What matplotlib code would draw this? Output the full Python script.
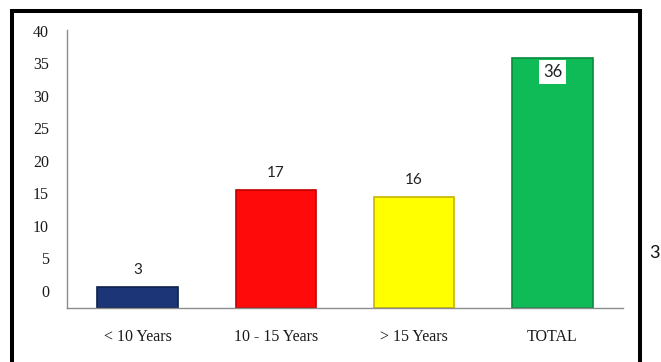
import matplotlib
matplotlib.use("Agg")
import matplotlib.pyplot as plt
from matplotlib.patches import Rectangle

# data
categories = ["< 10 Years", "10 - 15 Years", "> 15 Years", "TOTAL"]
values = [3, 17, 16, 36]
bar_colors = ["#1c3577", "#ff0a0a", "#ffff00", "#0fbb57"]
edge_colors = ["#0f2050", "#c00000", "#c8b400", "#0a8a3e"]
tick_values = [0, 5, 10, 15, 20, 25, 30, 35, 40]

# the printed scale sits a little off the bars (label 0 is above the baseline)
label_shift = 2.45
label_scale = 0.9366

fig = plt.figure(figsize=(6.61, 3.62), dpi=100)
fig.patch.set_facecolor("white")

# thick frame round the chart (open at the bottom of the crop)
frame = Rectangle((12 / 661, -0.05), (640 - 12) / 661, 1.05 - 11 / 362,
                  transform=fig.transFigure, fill=False, edgecolor="black",
                  linewidth=2.9, zorder=0)
fig.patches.append(frame)

ax = fig.add_axes([67 / 661, 1 - 308 / 362, (623 - 67) / 661, (308 - 30) / 362])
x = range(len(categories))
bars = ax.bar(x, values, width=0.58, color=bar_colors, edgecolor=edge_colors,
              linewidth=1.2, zorder=2)

ax.set_xlim(-0.51, 3.51)
ax.set_ylim(0, 40)
for side in ["top", "right"]:
    ax.spines[side].set_visible(False)
for side in ["left", "bottom"]:
    ax.spines[side].set_color("#8c8c8c")
    ax.spines[side].set_linewidth(1.0)

ax.set_yticks([])
ax.set_xticks(list(x))
ax.set_xticklabels(categories, fontsize=11.5, family="Liberation Serif", color="#1a1a1a")
ax.tick_params(axis="x", length=0, pad=15)

sec = ax.secondary_yaxis(
    "left",
    functions=(lambda v: (v - label_shift) / label_scale,
               lambda l: l * label_scale + label_shift))
sec.set_yticks(tick_values)
sec.set_yticklabels([str(t) for t in tick_values], fontsize=11.5,
                    family="Liberation Serif", color="#1a1a1a")
sec.tick_params(length=0, pad=13)
sec.spines["left"].set_visible(False)

# value labels
for i, (b, v) in enumerate(zip(bars, values)):
    if i == len(values) - 1:
        ax.annotate(str(v), (b.get_x() + b.get_width() / 2, v),
                    xytext=(0, -10), textcoords="offset points",
                    ha="center", va="center", fontsize=12, family="Lato",
                    color="#222222", zorder=4,
                    bbox=dict(boxstyle="square,pad=0.25", fc="white", ec="none"))
    else:
        ax.annotate(str(v), (b.get_x() + b.get_width() / 2, v),
                    xytext=(0, 12), textcoords="offset points",
                    ha="center", va="center", fontsize=11, family="Lato",
                    color="#222222")

fig.text(654 / 661, 1 - 253 / 362, "3", ha="center", va="center",
         fontsize=13, family="Lato", color="#111111")

fig.savefig("out.png", dpi=100)
